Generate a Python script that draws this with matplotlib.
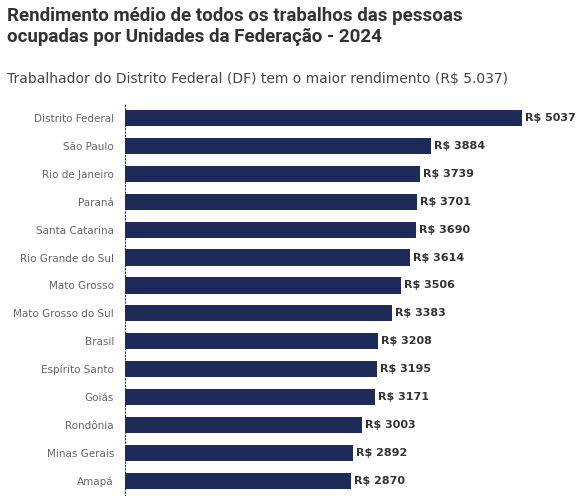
import matplotlib.pyplot as plt

STATES = [
    "Distrito Federal", "São Paulo", "Rio de Janeiro", "Paraná", "Santa Catarina",
    "Rio Grande do Sul", "Mato Grosso", "Mato Grosso do Sul", "Brasil",
    "Espírito Santo", "Goiás", "Rondônia", "Minas Gerais", "Amapá",
]
INCOME = [5037, 3884, 3739, 3701, 3690, 3614, 3506, 3383, 3208, 3195, 3171, 3003, 2892, 2870]

BAR_COLOR = "#1e2a57"

fig = plt.figure(figsize=(5.8, 4.96), dpi=100)
fig.text(0.012, 0.985, "Rendimento médio de todos os trabalhos das pessoas\nocupadas por Unidades da Federação - 2024",
         fontsize=13.5, fontweight="bold", color="#333333", va="top", ha="left",
         linespacing=1.15, family="Roboto")
fig.text(0.012, 0.855, "Trabalhador do Distrito Federal (DF) tem o maior rendimento (R$ 5.037)",
         fontsize=10, color="#444444", va="top", ha="left")

ax = fig.add_axes([125 / 580, 0.0, 455 / 580, 1 - 103 / 496])
y = list(range(len(STATES)))
ax.barh(y, INCOME, height=0.58, color=BAR_COLOR)
for yi, v in zip(y, INCOME):
    ax.text(v + 40, yi, f"R$ {v}", va="center", ha="left", fontsize=8,
            fontweight="bold", color="#333333")

ax.set_yticks(y)
ax.set_yticklabels(STATES, fontsize=7.5, color="#666666")
ax.tick_params(axis="y", length=0, pad=8)
ax.set_xticks([])
ax.set_xlim(0, 5773)
ax.set_ylim(13.55, -0.54)
for s in ["top", "right", "bottom"]:
    ax.spines[s].set_visible(False)
ax.spines["left"].set_linestyle((0, (1, 2)))
ax.spines["left"].set_color("#333333")

fig.savefig("out.png", dpi=100)
